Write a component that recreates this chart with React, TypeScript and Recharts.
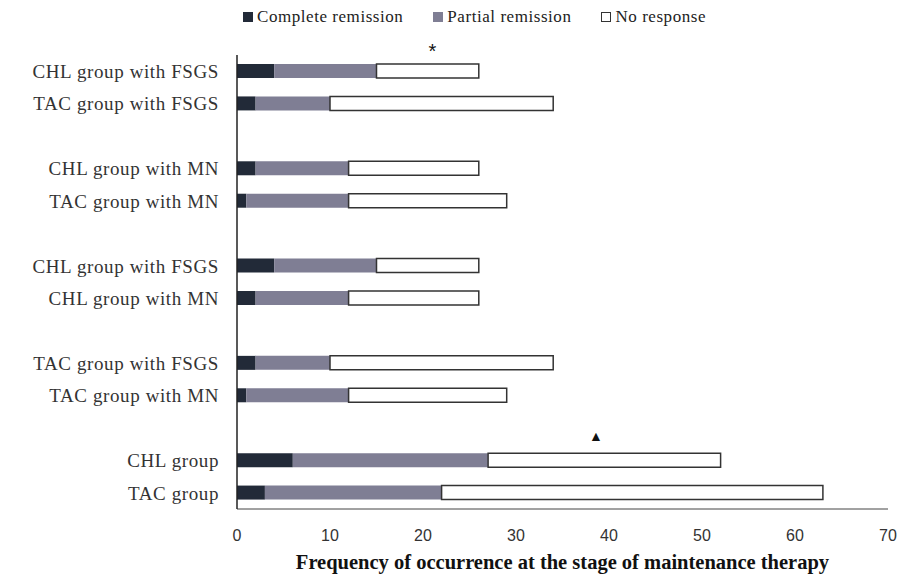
import { BarChart, Bar, XAxis, YAxis, Legend, ReferenceDot } from "recharts";

// Row keys (blank rows make the gaps between groups)
const rowKeys = ["r0", "r1", "g1", "r2", "r3", "g2", "r4", "r5", "g3", "r6", "r7", "g4", "r8", "r9"];
const rowLabels = [
  "CHL group with FSGS",
  "TAC group with FSGS",
  "",
  "CHL group with MN",
  "TAC group with MN",
  "",
  "CHL group with FSGS",
  "CHL group with MN",
  "",
  "TAC group with FSGS",
  "TAC group with MN",
  "",
  "CHL group",
  "TAC group",
];
const completeRemission = [4, 2, null, 2, 1, null, 4, 2, null, 2, 1, null, 6, 3];
const partialRemission = [11, 8, null, 10, 11, null, 11, 10, null, 8, 11, null, 21, 19];
const noResponse = [11, 24, null, 14, 17, null, 11, 14, null, 24, 17, null, 25, 41];
const xTicks = [0, 10, 20, 30, 40, 50, 60, 70];

// significance marks: row key, x value, symbol
const marks = [
  { key: "r0", x: 21, symbol: "*", dy: -18 },
  { key: "r8", x: 38.6, symbol: "▲", dy: -23 },
];

const data = rowKeys.map((key, i) => ({
  key,
  label: rowLabels[i],
  cr: completeRemission[i],
  pr: partialRemission[i],
  nr: noResponse[i],
}));

const labelOf: Record<string, string> = {};
data.forEach((d) => (labelOf[d.key] = d.label));

const COLORS = { cr: "#222a38", pr: "#7f7e94", nr: "#ffffff" };

function LegendBox() {
  const items = [
    { name: "Complete remission", fill: COLORS.cr, stroke: COLORS.cr },
    { name: "Partial remission", fill: COLORS.pr, stroke: COLORS.pr },
    { name: "No response", fill: "#fff", stroke: "#333" },
  ];
  return (
    <div
      style={{
        display: "flex",
        gap: 30,
        fontFamily: "Liberation Serif",
        fontSize: 17,
        letterSpacing: 0.55,
        color: "#222",
        height: 20,
        lineHeight: "20px",
      }}
    >
      {items.map((it) => (
        <span key={it.name} style={{ display: "flex", alignItems: "center" }}>
          <span
            style={{
              display: "inline-block",
              width: 8,
              height: 8,
              background: it.fill,
              border: `1px solid ${it.stroke}`,
              marginRight: 4,
            }}
          />
          {it.name}
        </span>
      ))}
    </div>
  );
}

export default function App() {
  return (
    <div style={{ position: "fixed", left: 0, top: 0, background: "#fff" }}>
      <BarChart
        width={910}
        height={581}
        data={data}
        layout="vertical"
        margin={{ top: 35, right: 22, left: 0, bottom: 42 }}
      >
        <XAxis
          type="number"
          domain={[0, 70]}
          ticks={xTicks}
          tickLine={false}
          axisLine={{ stroke: "#444", strokeWidth: 1 }}
          tick={{ fontFamily: "Liberation Sans", fontSize: 16, fill: "#333" }}
          tickMargin={15}
          height={30}
          label={{
            value: "Frequency of occurrence at the stage of maintenance therapy",
            position: "insideBottom",
            offset: -30,
            style: { fontFamily: "Liberation Serif", fontWeight: "bold", fontSize: 20.5, fill: "#111" },
          }}
        />
        <YAxis
          type="category"
          dataKey="key"
          width={237}
          interval={0}
          tickLine={false}
          axisLine={{ stroke: "#222", strokeWidth: 1.5 }}
          tickFormatter={(k: string) => labelOf[k] ?? ""}
          tick={{ fontFamily: "Liberation Serif", fontSize: 19, fill: "#333", letterSpacing: 0.6 }}
          tickMargin={12}
        />
        <Legend
          verticalAlign="top"
          height={20}
          content={() => <LegendBox />}
          wrapperStyle={{ top: 7, left: 243, width: 640 }}
        />
        <Bar dataKey="cr" name="Complete remission" stackId="a" fill={COLORS.cr} barSize={14} isAnimationActive={false} />
        <Bar dataKey="pr" name="Partial remission" stackId="a" fill={COLORS.pr} barSize={14} isAnimationActive={false} />
        <Bar
          dataKey="nr"
          name="No response"
          stackId="a"
          fill={COLORS.nr}
          stroke="#333"
          strokeWidth={1.5}
          barSize={14}
          isAnimationActive={false}
        />
        {marks.map((m) => (
          <ReferenceDot
            key={m.key}
            x={m.x}
            y={m.key}
            r={0}
            ifOverflow="visible"
            shape={(p: any) => (
              <text
                x={p.cx}
                y={p.cy + m.dy}
                textAnchor="middle"
                dominantBaseline="middle"
                fontSize={m.symbol === "*" ? 20 : 14}
                fontFamily="Liberation Sans"
                fill="#111"
              >
                {m.symbol}
              </text>
            )}
          />
        ))}
      </BarChart>
    </div>
  );
}
